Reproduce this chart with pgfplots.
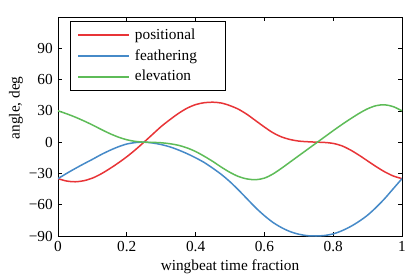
\documentclass[border=0pt]{standalone}
\usepackage{fontspec}
\setmainfont{Liberation Serif}
\usepackage{pgfplots}
\pgfplotsset{compat=1.18}
\definecolor{cred}{RGB}{232,52,55}
\definecolor{cblue}{RGB}{70,138,200}
\definecolor{cgreen}{RGB}{94,188,88}
\begin{document}
\fontsize{15.3bp}{18bp}\selectfont
\begin{tikzpicture}
\begin{axis}[
  name=ax,
  scale only axis,
  width=344bp, height=219bp,
  xmin=0, xmax=1, ymin=-90, ymax=120,
  xtick={0,0.2,0.4,0.6,0.8,1},
  xticklabels={0,0.2,0.4,0.6,0.8,1},
  ytick={-90,-60,-30,0,30,60,90},
  yticklabels={−90,−60,−30,0,30,60,90},
  tick align=inside,
  major tick length=4bp,
  tick style={black, line width=0.6bp},
  axis line style={black, line width=0.9bp},
  every tick label/.append style={font=\fontsize{15.3bp}{18bp}\selectfont},
  xlabel={wingbeat time fraction},
  ylabel={angle, deg},
  label style={font=\fontsize{15.3bp}{18bp}\selectfont},
  xlabel style={at={(axis description cs:0.5,-0.142)}, anchor=center},
  ylabel style={at={(axis description cs:-0.122,0.585)}, anchor=center},
  legend style={at={(0.035,0.982)}, anchor=north west, draw=black, line width=0.9bp,
    font=\fontsize{15.3bp}{18bp}\selectfont, row sep=4bp, inner xsep=7bp, inner ysep=5bp},
  legend cell align=left,
  legend image code/.code={\draw[#1] (0bp,0bp) -- (51bp,0bp); \path (54bp,0bp);},
  every axis plot/.append style={line width=1.5bp, smooth},
]
\addplot[cred] coordinates {
(0,-35) (0.025,-37.3) (0.05,-38) (0.075,-37) (0.1,-34.5) (0.125,-30.5) (0.15,-25.5)
(0.175,-20) (0.2,-14) (0.225,-7.3) (0.25,0) (0.275,7.5) (0.3,15) (0.325,21.5)
(0.35,27.5) (0.375,32.5) (0.4,36) (0.425,37.8) (0.45,38.3) (0.475,37.5) (0.5,35)
(0.525,31.5) (0.55,26.5) (0.575,20.5) (0.6,14.5) (0.625,9) (0.65,5) (0.675,2.5)
(0.7,1) (0.725,0.4) (0.75,0) (0.775,-0.3) (0.8,-1.2) (0.825,-3.5) (0.85,-7.5)
(0.875,-12.5) (0.9,-18) (0.925,-23.5) (0.95,-28.5) (0.975,-32.5) (1,-35)};
\addlegendentry{\makebox[81bp][l]{positional}}
\addplot[cblue] coordinates {
(0,-35) (0.025,-30) (0.05,-25.3) (0.075,-20.8) (0.1,-16.5) (0.125,-12) (0.15,-8)
(0.175,-4.5) (0.2,-1.8) (0.225,-0.4) (0.25,0) (0.275,-0.8) (0.3,-2.3) (0.325,-4.5)
(0.35,-7.5) (0.375,-11) (0.4,-15) (0.425,-19.5) (0.45,-25) (0.475,-31) (0.5,-38)
(0.525,-46) (0.55,-54.5) (0.575,-63) (0.6,-70.5) (0.625,-77) (0.65,-82) (0.675,-85.8)
(0.7,-88.3) (0.725,-89.7) (0.75,-90) (0.775,-89.5) (0.8,-88) (0.825,-85) (0.85,-81)
(0.875,-76) (0.9,-70) (0.925,-62.5) (0.95,-54) (0.975,-44.5) (1,-35)};
\addlegendentry{feathering}
\addplot[cgreen] coordinates {
(0,30) (0.025,27.2) (0.05,24) (0.075,20.4) (0.1,16.5) (0.125,12.3) (0.15,8.3)
(0.175,4.9) (0.2,2.3) (0.225,0.7) (0.25,0) (0.275,-0.2) (0.3,-0.6) (0.325,-1.5)
(0.35,-3) (0.375,-5.5) (0.4,-9) (0.425,-13.5) (0.45,-18.5) (0.475,-24) (0.5,-29)
(0.525,-33) (0.55,-35.3) (0.575,-36) (0.6,-34.5) (0.625,-30.5) (0.65,-25) (0.675,-19)
(0.7,-13) (0.725,-7) (0.75,-1) (0.775,5) (0.8,11) (0.825,16.8) (0.85,22.3)
(0.875,27.5) (0.9,32) (0.925,35) (0.95,35.8) (0.975,34) (1,30)};
\addlegendentry{elevation}
\end{axis}
\pgfresetboundingbox
\useasboundingbox ([xshift=-58bp,yshift=-42bp]ax.south west) rectangle ([xshift=13bp,yshift=17bp]ax.north east);
\end{tikzpicture}
\end{document}
